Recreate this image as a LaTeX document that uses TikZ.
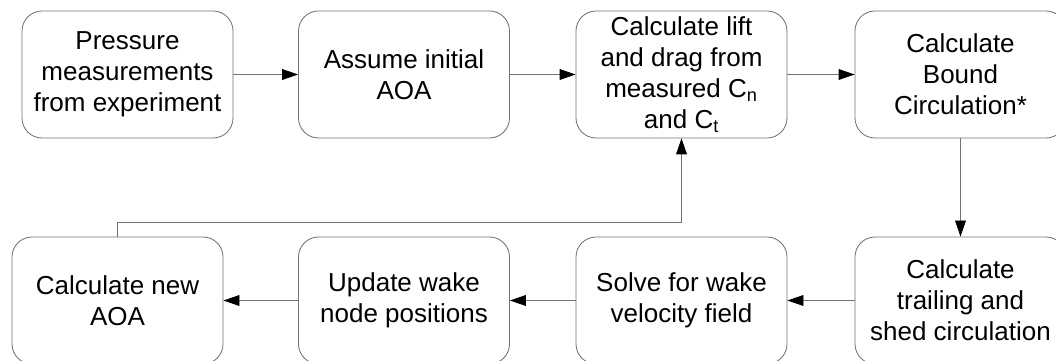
\documentclass[tikz,border=0pt]{standalone}
\usepackage{fontspec}
\setsansfont{Liberation Sans}
\usepackage{tikz}
\usetikzlibrary{positioning,arrows.meta}

\begin{document}
\begin{tikzpicture}[
        font=\sffamily\fontsize{18.5}{22}\selectfont,
        % Styles
        stepbox/.style={rectangle, draw=black!55, line width=0.6pt, fill=white, minimum width=5.275cm, minimum height=3.175cm, align=center, rounded corners=0.5cm, inner sep=0pt},
        arrow/.style={draw=black!55, line width=0.6pt, -{Triangle[length=0.4cm, width=0.27cm, black]}}
    ]

    \useasboundingbox (0,0) rectangle (26.4,9);
    \clip (0,0) rectangle (26.4,9);

    % ================= TOP ROW =================
    \node[stepbox] (pressure) at (3.1875, 7.1375) {Pressure\\measurements\\from experiment};
    \node[stepbox] (assume) at (10.1, 7.1375) {Assume initial\\AOA};
    \node[stepbox] (lift) at (17.0375, 7.1375) {Calculate lift\\and drag from\\measured C\textsubscript{n}\\and C\textsubscript{t}};
    \node[stepbox] (bound) at (24.0125, 7.1375) {Calculate\\Bound\\Circulation*};

    % ================= BOTTOM ROW =================
    \node[stepbox] (trailing) at (24.0125, 1.4875) {Calculate\\trailing and\\shed circulation};
    \node[stepbox] (solve) at (17.0375, 1.4875) {Solve for wake\\velocity field};
    \node[stepbox] (update) at (10.1, 1.4875) {Update wake\\node positions};
    \node[stepbox] (newaoa) at (2.9375, 1.4875) {Calculate new\\AOA};

    % Connections
    \draw[arrow] (pressure) -- (assume);
    \draw[arrow] (assume) -- (lift);
    \draw[arrow] (lift) -- (bound);
    \draw[arrow] (bound) -- (trailing);
    \draw[arrow] (trailing) -- (solve);
    \draw[arrow] (solve) -- (update);
    \draw[arrow] (update) -- (newaoa);

    % Loop back to the lift and drag step
    \coordinate (bend) at (2.9375, 3.45);
    \draw[arrow] (newaoa.north) -- (bend) -| (lift.south);

\end{tikzpicture}
\end{document}
